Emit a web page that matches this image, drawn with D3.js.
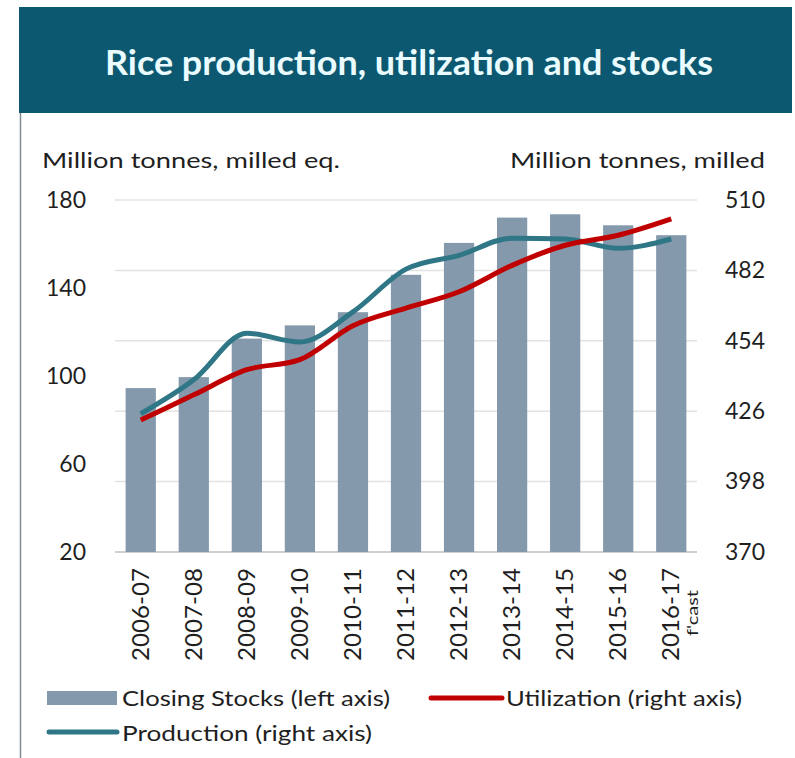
<!DOCTYPE html>
<meta charset="utf-8">
<script src="https://d3js.org/d3.v7.min.js"></script>
<style>
  body { margin: 0; background: #fff; }
  text { font-family: Lato, "Open Sans", sans-serif; }
</style>
<body>
<div id="chart"></div>
<script>

// chart data
var seasons = ["2006-07", "2007-08", "2008-09", "2009-10", "2010-11", "2011-12",
               "2012-13", "2013-14", "2014-15", "2015-16", "2016-17"];
var stocks      = [94.5, 99.5, 117, 123, 129, 146, 160.5, 172, 173.5, 168.5, 164];
var utilization = [422.5, 432.5, 442.5, 446.5, 460, 467, 473.5, 484, 492, 496, 502.5];
var production  = [425, 438.5, 457, 453.5, 465.5, 482.5, 488, 494.8, 494.5, 490.8, 494.5];
var leftTicks  = [20, 60, 100, 140, 180];
var rightTicks = [370, 398, 426, 454, 482, 510];

var width = 795, height = 758;
var plot = {left: 115, right: 697, top: 200, bottom: 552};
var ink = "#1f1f1f";

var svg = d3.select("#chart").append("svg")
    .attr("width", width)
    .attr("height", height);

// header band
svg.append("rect")
    .attr("x", 19).attr("y", 7)
    .attr("width", 773).attr("height", 106)
    .attr("fill", "#0c5870");

svg.append("text")
    .attr("x", 105).attr("y", 75)
    .attr("fill", "#eafcff")
    .style("font-size", "34px")
    .style("font-weight", "bold")
    .attr("textLength", 608)
    .attr("lengthAdjust", "spacingAndGlyphs")
    .text("Rice production, utilization and stocks");

// left border of the panel
svg.append("line")
    .attr("x1", 20.5).attr("x2", 20.5)
    .attr("y1", 113).attr("y2", 758)
    .attr("stroke", "#7f8c93").attr("stroke-width", 1.5);

var x = d3.scaleBand()
    .domain(seasons)
    .range([plot.left, plot.right])
    .paddingInner(0.43)
    .paddingOuter(0.2);

var yLeft = d3.scaleLinear().domain([20, 180]).range([plot.bottom, plot.top]);
var yRight = d3.scaleLinear().domain([370, 510]).range([plot.bottom, plot.top]);

// gridlines follow the right axis
svg.append("g")
  .selectAll("line")
  .data(rightTicks)
  .join("line")
    .attr("x1", plot.left).attr("x2", plot.right)
    .attr("y1", function(d) { return yRight(d); })
    .attr("y2", function(d) { return yRight(d); })
    .attr("stroke", function(d) { return d == 370 ? "#bfbfbf" : "#e3e3e3"; })
    .attr("stroke-width", 1.5);

// bars
svg.append("g")
  .selectAll("rect")
  .data(stocks)
  .join("rect")
    .attr("x", function(d, i) { return x(seasons[i]); })
    .attr("width", x.bandwidth())
    .attr("y", function(d) { return yLeft(d); })
    .attr("height", function(d) { return yLeft(20) - yLeft(d); })
    .attr("fill", "#8499ab");

// lines
var line = function(vals) {
  return d3.line()
    .x(function(d, i) { return x(seasons[i]) + x.bandwidth() / 2; })
    .y(function(d) { return yRight(d); })
    .curve(d3.curveMonotoneX)(vals);
};

svg.append("path")
    .attr("d", line(production))
    .attr("fill", "none")
    .attr("stroke", "#2f7686")
    .attr("stroke-width", 5)
    .attr("stroke-linejoin", "round");

svg.append("path")
    .attr("d", line(utilization))
    .attr("fill", "none")
    .attr("stroke", "#c00000")
    .attr("stroke-width", 5)
    .attr("stroke-linejoin", "round");

// left axis
var axL = svg.append("g")
    .attr("transform", "translate(86,0)")
    .call(d3.axisLeft(yLeft).tickValues(leftTicks).tickSize(0).tickPadding(0));
axL.select(".domain").remove();
axL.selectAll("text").style("font-size", "23px").attr("fill", ink).attr("font-family", null);

// right axis
var axR = svg.append("g")
    .attr("transform", "translate(725,0)")
    .call(d3.axisRight(yRight).tickValues(rightTicks).tickSize(0).tickPadding(0));
axR.select(".domain").remove();
axR.selectAll("text").style("font-size", "23px").attr("fill", ink).attr("font-family", null);

// axis titles
svg.append("text")
    .attr("x", 42).attr("y", 168)
    .attr("fill", ink)
    .style("font-size", "22px")
    .attr("textLength", 298)
    .attr("lengthAdjust", "spacingAndGlyphs")
    .text("Million tonnes, milled eq.");

svg.append("text")
    .attr("x", 510).attr("y", 168)
    .attr("fill", ink)
    .style("font-size", "22px")
    .attr("textLength", 255)
    .attr("lengthAdjust", "spacingAndGlyphs")
    .text("Million tonnes, milled");

// category labels, rotated
var axX = svg.append("g")
    .attr("transform", "translate(0," + (plot.bottom + 16) + ")")
    .call(d3.axisBottom(x).tickSize(0).tickPadding(0));
axX.select(".domain").remove();
axX.selectAll("text")
    .attr("font-family", null)
    .style("font-size", "23px")
    .attr("fill", ink)
    .attr("text-anchor", "end")
    .attr("dy", "0.35em")
    .attr("textLength", 93)
    .attr("lengthAdjust", "spacingAndGlyphs")
    .attr("transform", "rotate(-90)");

svg.append("text")
    .attr("transform", "translate(" + (x(seasons[10]) + x.bandwidth() / 2 + 27) + ",590) rotate(-90)")
    .attr("text-anchor", "end")
    .attr("fill", ink)
    .style("font-size", "15px")
    .attr("textLength", 46)
    .attr("lengthAdjust", "spacingAndGlyphs")
    .text("f'cast");

// legend
var legend = svg.append("g");
legend.append("rect")
    .attr("x", 47).attr("y", 691).attr("width", 70).attr("height", 14)
    .attr("fill", "#8499ab");
legend.append("text")
    .attr("x", 122).attr("y", 706)
    .attr("fill", ink).style("font-size", "22px")
    .attr("textLength", 268).attr("lengthAdjust", "spacingAndGlyphs")
    .text("Closing Stocks (left axis)");

legend.append("line")
    .attr("x1", 431).attr("x2", 502).attr("y1", 698).attr("y2", 698)
    .attr("stroke", "#c00000").attr("stroke-width", 5).attr("stroke-linecap", "round");
legend.append("text")
    .attr("x", 506).attr("y", 706)
    .attr("fill", ink).style("font-size", "22px")
    .attr("textLength", 236).attr("lengthAdjust", "spacingAndGlyphs")
    .text("Utilization (right axis)");

legend.append("line")
    .attr("x1", 49).attr("x2", 117).attr("y1", 732).attr("y2", 732)
    .attr("stroke", "#2f7686").attr("stroke-width", 5).attr("stroke-linecap", "round");
legend.append("text")
    .attr("x", 122).attr("y", 741)
    .attr("fill", ink).style("font-size", "22px")
    .attr("textLength", 250).attr("lengthAdjust", "spacingAndGlyphs")
    .text("Production (right axis)");

</script>
</body>
